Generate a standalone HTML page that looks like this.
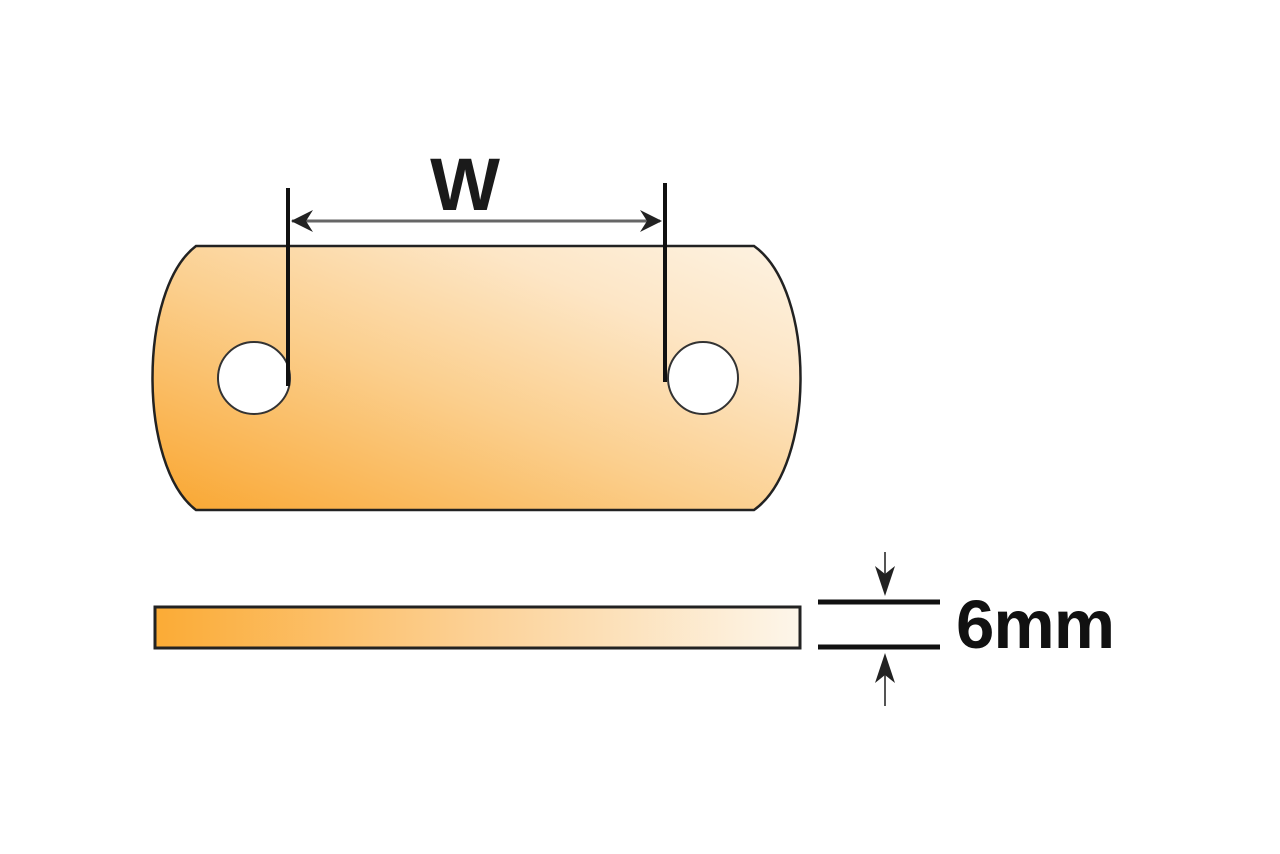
<!DOCTYPE html>
<html><head><style>html,body{margin:0;padding:0;background:#fff}svg{display:block}</style></head>
<body>
<svg width="1280" height="854" viewBox="0 0 1280 854" xmlns="http://www.w3.org/2000/svg">
<defs>
<linearGradient id="g1" x1="0" y1="1" x2="1" y2="0">
<stop offset="0" stop-color="#f9a630"/>
<stop offset="0.45" stop-color="#fbcf8e"/>
<stop offset="0.75" stop-color="#fde6c6"/>
<stop offset="1" stop-color="#fdf3e3"/>
</linearGradient>
<linearGradient id="g2" x1="0" y1="0" x2="1" y2="0">
<stop offset="0" stop-color="#fbab35"/>
<stop offset="0.5" stop-color="#fcd196"/>
<stop offset="1" stop-color="#fdf6ea"/>
</linearGradient>
</defs>
<path d="M196,246 L754,246 C816,290 816,466 754,510 L196,510 C138,466 138,290 196,246 Z" fill="url(#g1)" stroke="#222" stroke-width="2.5"/>
<ellipse cx="254" cy="378" rx="36" ry="36" fill="#fff" stroke="#333" stroke-width="2"/>
<ellipse cx="703" cy="378" rx="35" ry="36" fill="#fff" stroke="#333" stroke-width="2"/>
<line x1="288" y1="188" x2="288" y2="386" stroke="#111" stroke-width="4"/>
<line x1="665" y1="183" x2="665" y2="382" stroke="#111" stroke-width="4"/>
<line x1="292" y1="221" x2="660" y2="221" stroke="#666" stroke-width="3"/>
<path d="M291,221 L313,210 L306,221 L313,232 Z" fill="#222"/>
<path d="M662,221 L640,210 L647,221 L640,232 Z" fill="#222"/>
<text x="465" y="210" text-anchor="middle" font-family="Liberation Sans, sans-serif" font-weight="bold" font-size="74" fill="#1a1a1a">W</text>
<rect x="155" y="607" width="645" height="41" fill="url(#g2)" stroke="#222" stroke-width="3"/>
<line x1="818" y1="602" x2="940" y2="602" stroke="#111" stroke-width="5"/>
<line x1="818" y1="647" x2="940" y2="647" stroke="#111" stroke-width="5"/>
<line x1="885" y1="552" x2="885" y2="590" stroke="#555" stroke-width="2"/>
<path d="M885,596 L875,566 L885,574 L895,566 Z" fill="#222"/>
<line x1="885" y1="660" x2="885" y2="706" stroke="#555" stroke-width="2"/>
<path d="M885,653 L875,683 L885,675 L895,683 Z" fill="#222"/>
<text x="956" y="648" font-family="Liberation Sans, sans-serif" font-weight="bold" font-size="69" letter-spacing="-1" fill="#111">6mm</text>
</svg>
</body></html>
